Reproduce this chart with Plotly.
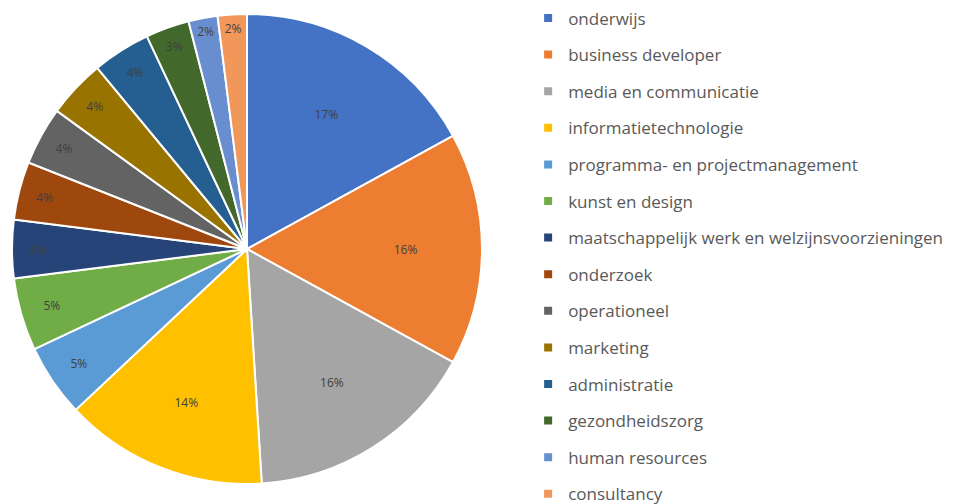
import plotly.graph_objects as go

categories = ["onderwijs", "business developer", "media en communicatie", "informatietechnologie",
              "programma- en projectmanagement", "kunst en design",
              "maatschappelijk werk en welzijnsvoorzieningen", "onderzoek", "operationeel",
              "marketing", "administratie", "gezondheidszorg", "human resources", "consultancy"]
values = [17, 16, 16, 14, 5, 5, 4, 4, 4, 4, 4, 3, 2, 2]
colors = ["#4472C4", "#ED7D31", "#A5A5A5", "#FFC000", "#5B9BD5", "#70AD47", "#264478",
          "#9E480E", "#636363", "#997300", "#255E91", "#43682B", "#698ED0", "#F1975A"]

W, H = 965, 504
fig = go.Figure()
fig.add_trace(go.Pie(
    labels=categories, values=values, sort=False, direction="clockwise", rotation=0,
    marker=dict(colors=colors, line=dict(color="white", width=2)),
    texttemplate="%{value}%", textposition="inside",
    insidetextorientation="horizontal",
    textfont=dict(color="#404040", size=12, family="Open Sans"),
    domain=dict(x=[4 / W, 474 / W], y=[28 / H, 498 / H]),
    showlegend=False,
))
for i, (c, col) in enumerate(zip(categories, colors)):
    fig.add_trace(go.Scatter(
        x=[None], y=[None], mode="markers", name=c, legendgroup=f"g{i}",
        marker=dict(symbol="square", size=8, color=col),
    ))
fig.update_layout(
    width=W, height=H, margin=dict(l=0, r=0, t=0, b=0, autoexpand=False),
    paper_bgcolor="white", plot_bgcolor="white",
    xaxis=dict(visible=False), yaxis=dict(visible=False),
    legend=dict(x=0.539, y=1.015, xanchor="left", yanchor="top",
                font=dict(family="Open Sans", size=17, color="#595959"),
                tracegroupgap=11.5, itemwidth=30, bgcolor="rgba(0,0,0,0)",
                maxheight=1000),
)
fig.write_html("out.html")
